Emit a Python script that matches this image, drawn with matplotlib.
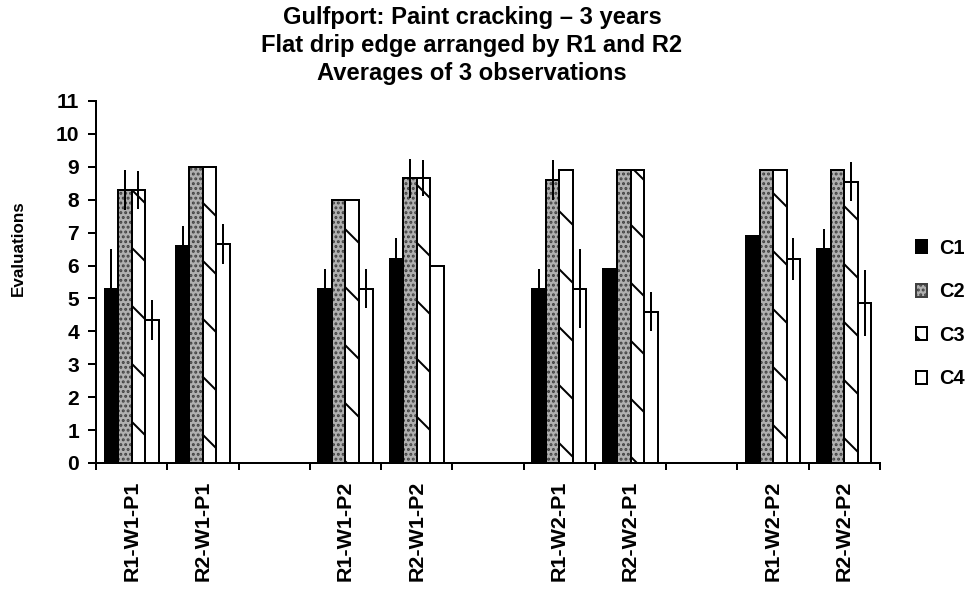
import numpy as np
import matplotlib
matplotlib.use("Agg")
import matplotlib.pyplot as plt
from matplotlib.patches import Patch

nan = np.nan
categories = ['R1-W1-P1', 'R2-W1-P1', '', 'R1-W1-P2', 'R2-W1-P2', '',
              'R1-W2-P1', 'R2-W2-P1', '', 'R1-W2-P2', 'R2-W2-P2']
series_names = ['C1', 'C2', 'C3', 'C4']
C1 = [5.3, 6.6, nan, 5.3, 6.2, nan, 5.3, 5.9, nan, 6.9, 6.5]
C1_err = [1.2, 0.6, nan, 0.6, 0.65, nan, 0.6, 0.0, nan, 0.0, 0.6]
C2 = [8.3, 9.0, nan, 8.0, 8.65, nan, 8.6, 8.9, nan, 8.9, 8.9]
C2_err = [0.6, 0.0, nan, 0.0, 0.6, nan, 0.6, 0.0, nan, 0.0, 0.0]
C3 = [8.3, 9.0, nan, 8.0, 8.65, nan, 8.9, 8.9, nan, 8.9, 8.55]
C3_err = [0.57, 0.0, nan, 0.0, 0.55, nan, 0.0, 0.0, nan, 0.0, 0.6]
C4 = [4.35, 6.65, nan, 5.3, 6.0, nan, 5.3, 4.6, nan, 6.2, 4.85]
C4_err = [0.6, 0.6, nan, 0.6, 0.0, nan, 1.2, 0.6, nan, 0.65, 1.0]
y_ticks = list(range(0, 12))
title = "Gulfport: Paint cracking \u2013 3 years\nFlat drip edge arranged by R1 and R2\nAverages of 3 observations"
ylabel = "Evaluations"

DPI = 174
W, H = 972, 595


def pt(px):
    return px * 72.0 / DPI


plt.rcParams['font.family'] = ['Liberation Sans', 'DejaVu Sans']
plt.rcParams['font.weight'] = 'bold'
plt.rcParams['hatch.linewidth'] = pt(2.0)

fig = plt.figure(figsize=(W / DPI, H / DPI), dpi=DPI)
ax = fig.add_axes([96 / W, 1 - 463 / H, (880 - 96) / W, (463 - 101) / H])

x = np.arange(len(categories))
bw = 0.19
offsets = [-1.5 * bw, -0.5 * bw, 0.5 * bw, 1.5 * bw]
values = [C1, C2, C3, C4]
errs = [C1_err, C2_err, C3_err, C4_err]
lw = pt(2.0)

styles = [
    dict(facecolor='black', hatch=None),
    dict(facecolor='#b0b0b0', hatch='......'),
    dict(facecolor='white', hatch='\\'),
    dict(facecolor='white', hatch=None),
]

handles = []
for i, (vals, er, st) in enumerate(zip(values, errs, styles)):
    xs = x + offsets[i]
    v = np.array(vals, dtype=float)
    if i == 1:
        ax.bar(xs, v, bw, facecolor=st['facecolor'], hatch=st['hatch'],
               edgecolor='#404040', linewidth=0, zorder=2)
        ax.bar(xs, v, bw, facecolor='none', edgecolor='black', linewidth=lw, zorder=3)
    else:
        ax.bar(xs, v, bw, facecolor=st['facecolor'], hatch=st['hatch'],
               edgecolor='black', linewidth=lw, zorder=3)
    e = np.array(er, dtype=float)
    ax.errorbar(xs, v, yerr=e, fmt='none', ecolor='black', elinewidth=lw,
                capsize=0, zorder=4)
    if i == 1:
        handles.append(Patch(facecolor=st['facecolor'], hatch=st['hatch'],
                             edgecolor='#404040', linewidth=lw, label=series_names[i]))
    else:
        handles.append(Patch(facecolor=st['facecolor'], hatch=st['hatch'],
                             edgecolor='black', linewidth=lw, label=series_names[i]))

ax.set_xlim(-0.5, len(categories) - 0.5)
ax.set_ylim(0, 11)
ax.set_yticks(y_ticks)
ax.set_yticklabels([str(t) for t in y_ticks], fontsize=pt(21), fontweight='bold')

ax.set_xticks(np.arange(len(categories) + 1) - 0.5)
ax.set_xticklabels([])
ax.set_xticks(x, minor=True)
ax.set_xticklabels(categories, minor=True, rotation=90, fontsize=pt(21.5),
                   fontweight='bold', va='top', ha='center')
ax.tick_params(axis='x', which='minor', length=0, pad=pt(18))
ax.tick_params(axis='x', which='major', length=pt(7), width=lw, direction='out')
ax.tick_params(axis='y', length=pt(8), width=lw, direction='out', pad=pt(9))

for s in ['top', 'right']:
    ax.spines[s].set_visible(False)
for s in ['left', 'bottom']:
    ax.spines[s].set_linewidth(lw)

fig.text(472 / W, 1 - 6 / H, title, ha='center', va='top', fontsize=pt(23.8),
         fontweight='bold', linespacing=1.29)
fig.text(18 / W, 1 - 248 / H, ylabel, ha='center', va='center', rotation=90,
         fontsize=pt(17), fontweight='bold')

fig.legend(handles=handles, loc='center left', bbox_to_anchor=(916 / W, 1 - 313.5 / H),
           frameon=False, fontsize=pt(20), handlelength=0.55, handleheight=0.6,
           handletextpad=0.6, labelspacing=1.23, borderaxespad=0, borderpad=0)

fig.savefig('out.png', dpi=DPI)
